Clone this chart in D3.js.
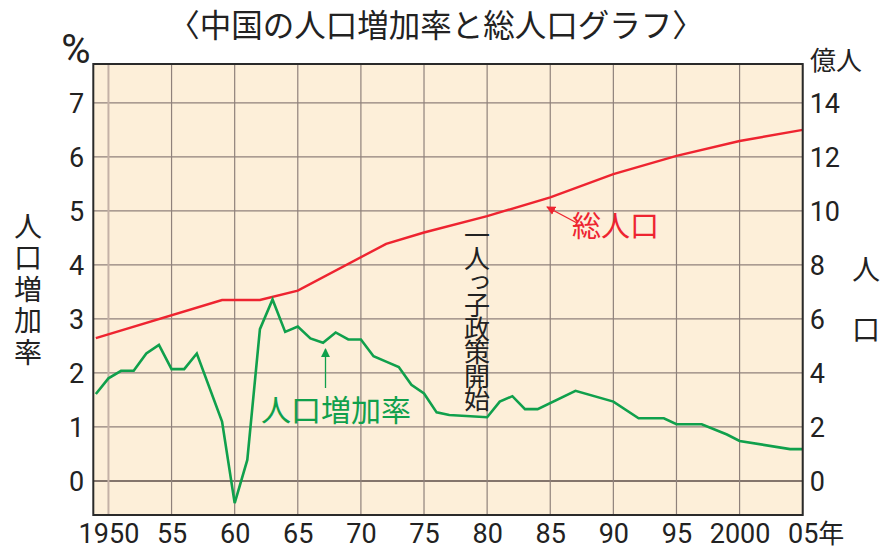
<!DOCTYPE html>
<html><head><meta charset="utf-8">
<script src="https://cdn.jsdelivr.net/npm/d3@7"></script>
<style>
body{margin:0;background:#fff;}
svg text{font-family:Roboto,"Noto Sans CJK JP",sans-serif;fill:#222;}
.jp{font-family:"Noto Sans CJK JP",sans-serif;}
</style></head>
<body><svg id="c" width="885" height="551"></svg>
<script>
// ---- data ----
const growthYears = [1949,1950,1951,1952,1953,1954,1955,1956,1957,1959,1960,1961,1962,1963,1964,1965,1966,1967,1968,1969,1970,1971,1972,1973,1974,1975,1976,1977,1980,1981,1982,1983,1984,1987,1990,1992,1994,1995,1997,1999,2000,2004,2005];
const growthRate = [1.61,1.90,2.04,2.04,2.36,2.52,2.07,2.07,2.36,1.10,-0.41,0.39,2.81,3.36,2.76,2.86,2.64,2.56,2.75,2.62,2.62,2.31,2.21,2.11,1.78,1.62,1.27,1.22,1.18,1.47,1.57,1.33,1.33,1.67,1.47,1.16,1.16,1.05,1.05,0.86,0.74,0.59,0.59];
const popYears = [1949,1959,1962,1965,1972,1975,1980,1985,1990,1995,2000,2005];
const population = [5.29,6.70,6.70,7.05,8.78,9.20,9.81,10.50,11.36,12.04,12.59,13.00];
const xTicks = [1950,1955,1960,1965,1970,1975,1980,1985,1990,1995,2000,2005];
const xTickLabels = ["1950","55","60","65","70","75","80","85","90","95","2000","05"];
const leftTicks = [0,1,2,3,4,5,6,7];
const rightTicks = [0,2,4,6,8,10,12,14];
const title = "〈中国の人口増加率と総人口グラフ〉";

// ---- layout ----
const svg = d3.select("#c");
const L=93.3, R=802.7, T=64, B=515;
const x = d3.scaleLinear().domain([1948.8,2005]).range([L,R]);
const yL = d3.scaleLinear().domain([-0.63,7.72]).range([B,T]);
const yR = d3.scaleLinear().domain([-1.26,15.44]).range([B,T]);

svg.append("rect").attr("x",L).attr("y",T).attr("width",R-L).attr("height",B-T).attr("fill","#fdefd9");

// grid
const g = svg.append("g");
g.selectAll(".hg").data(leftTicks).join("line")
  .attr("x1",L).attr("x2",R).attr("y1",d=>yL(d)).attr("y2",d=>yL(d))
  .attr("stroke",d=>d===0?"#5b4c47":"#8f817b").attr("stroke-width",d=>d===0?1.6:1.2);
g.selectAll(".vg").data(xTicks).join("line")
  .attr("y1",T).attr("y2",B).attr("x1",d=>x(d)).attr("x2",d=>x(d))
  .attr("stroke",d=>d===1950?"#c4b1a6":"#8f817b").attr("stroke-width",d=>d===1950?2:1.2);

// lines
svg.append("path").datum(popYears.map((d,i)=>[d,population[i]]))
  .attr("d",d3.line().x(d=>x(d[0])).y(d=>yR(d[1])))
  .attr("fill","none").attr("stroke","#ee2430").attr("stroke-width",2.4);
svg.append("path").datum(growthYears.map((d,i)=>[d,growthRate[i]]))
  .attr("d",d3.line().x(d=>x(d[0])).y(d=>yL(d[1])))
  .attr("fill","none").attr("stroke","#10a04c").attr("stroke-width",2.6).attr("stroke-linejoin","miter");

// border
svg.append("rect").attr("x",L).attr("y",T).attr("width",R-L).attr("height",B-T)
  .attr("fill","none").attr("stroke","#2a2a2a").attr("stroke-width",2);

// axes
const axL = svg.append("g").attr("transform",`translate(${L},0)`)
  .call(d3.axisLeft(yL).tickValues(leftTicks).tickSize(0).tickPadding(9));
const axR = svg.append("g").attr("transform",`translate(${R},0)`)
  .call(d3.axisRight(yR).tickValues(rightTicks).tickSize(0).tickPadding(7));
const axB = svg.append("g").attr("transform",`translate(0,${B})`)
  .call(d3.axisBottom(x).tickValues(xTicks).tickFormat((d,i)=>xTickLabels[i]).tickSize(0).tickPadding(9));
[axL,axR,axB].forEach(a=>{a.select(".domain").remove();
  a.selectAll("text").attr("font-size",27).attr("fill","#222").style("font-family","Roboto,sans-serif");});
axL.selectAll("text").attr("dy","0.35em");
axR.selectAll("text").attr("dy","0.35em");
// last x label "05年"
const lastT = axB.selectAll(".tick text").filter((d)=>d===2005);
const w05 = lastT.node().getComputedTextLength();
lastT.attr("text-anchor","start").attr("x",-w05/2);
lastT.append("tspan").attr("class","jp").style("font-family","'Noto Sans CJK JP',sans-serif").attr("font-size",26).text("年");

// title & unit labels
svg.append("text").attr("class","jp").attr("x",436).attr("y",37).attr("text-anchor","middle")
  .attr("font-size",31.5).attr("fill","#222").text(title);
svg.append("text").attr("x",76).attr("y",63).attr("text-anchor","middle").attr("font-size",40).text("%");
svg.append("text").attr("class","jp").attr("x",836).attr("y",70).attr("text-anchor","middle").attr("font-size",26).text("億人");

// vertical axis titles
svg.append("text").attr("class","jp").attr("x",28).attr("y",212)
  .style("writing-mode","vertical-rl").attr("font-size",28).attr("letter-spacing",3.5).text("人口増加率");
svg.append("text").attr("class","jp").attr("x",866).attr("y",255)
  .style("writing-mode","vertical-rl").attr("font-size",28).attr("letter-spacing",32).text("人口");

// policy annotation
svg.append("text").attr("class","jp").attr("x",477).attr("y",222)
  .style("writing-mode","vertical-rl").attr("font-size",26).attr("letter-spacing",-2.5)
  .attr("fill","#222").text("一人っ子政策開始");

// series labels & arrows
const defs = svg.append("defs");
function marker(id,color){
  defs.append("marker").attr("id",id).attr("viewBox","0 0 10 10").attr("refX",9).attr("refY",5)
    .attr("markerWidth",7).attr("markerHeight",7).attr("orient","auto")
    .append("path").attr("d","M0,0L10,5L0,10z").attr("fill",color);
}
marker("ar","#ee2430"); marker("ag","#10a04c");
svg.append("line").attr("x1",577).attr("y1",223).attr("x2",547).attr("y2",207)
  .attr("stroke","#ee2430").attr("stroke-width",1.3).attr("marker-end","url(#ar)");
svg.append("text").attr("class","jp").attr("x",572).attr("y",227).attr("dy","0.36em")
  .attr("font-size",29).style("fill","#ee2430").text("総人口");
svg.append("line").attr("x1",325.5).attr("y1",388).attr("x2",325.5).attr("y2",349)
  .attr("stroke","#10a04c").attr("stroke-width",1.3).attr("marker-end","url(#ag)");
svg.append("text").attr("class","jp").attr("x",261).attr("y",410).attr("dy","0.36em")
  .attr("font-size",30).style("fill","#10a04c").text("人口増加率");
</script></body></html>
